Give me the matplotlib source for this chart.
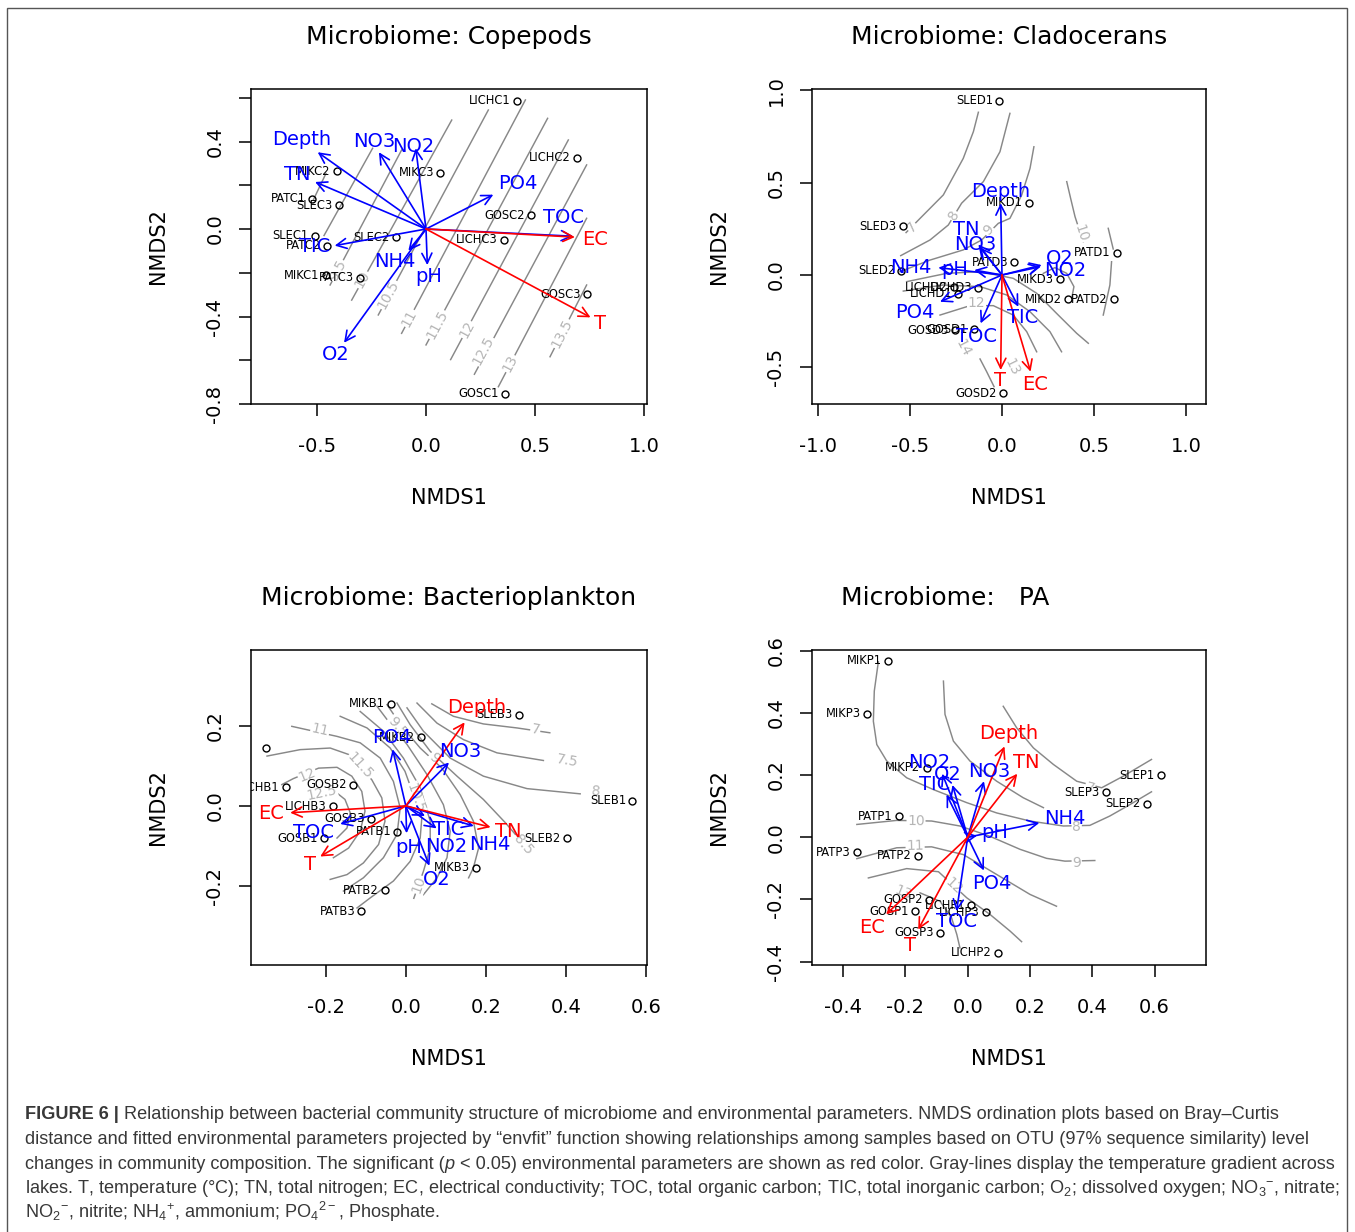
import numpy as np
import matplotlib
matplotlib.use("Agg")
import matplotlib.pyplot as plt
from matplotlib import font_manager
from matplotlib.patches import Rectangle
from matplotlib.transforms import offset_copy

plt.rcParams['font.family'] = 'DejaVu Sans'
plt.rcParams['axes.unicode_minus'] = False
nan = np.nan

# ---------------- Copepods ----------------
cop_sites = ['LICHC1', 'LICHC2', 'MIKC2', 'MIKC3', 'PATC1', 'SLEC3', 'GOSC2', 'SLEC1',
             'PATC2', 'SLEC2', 'LICHC3', 'MIKC1', 'PATC3', 'GOSC3', 'GOSC1']
cop_x = [0.417, 0.691, -0.408, 0.066, -0.523, -0.399, 0.482, -0.511,
         -0.453, -0.138, 0.358, -0.459, -0.303, 0.739, 0.364]
cop_y = [0.587, 0.325, 0.264, 0.257, 0.139, 0.108, 0.062, -0.030,
         -0.076, -0.037, -0.050, -0.212, -0.223, -0.299, -0.753]
cop_env = ['Depth', 'TN', 'NO3', 'NO2', 'PO4', 'TOC', 'EC', 'T', 'TIC', 'NH4', 'pH', 'O2']
cop_env_x = [-0.497, -0.509, -0.216, -0.047, 0.309, 0.675, 0.683, 0.755, -0.419, -0.081, 0.006, -0.376]
cop_env_y = [0.351, 0.215, 0.351, 0.369, 0.157, -0.033, -0.037, -0.404, -0.076, -0.099, -0.165, -0.520]
cop_lab_x = [-0.570, -0.593, -0.239, -0.058, 0.419, 0.630, 0.775, 0.800, -0.509, -0.145, 0.012, -0.413]
cop_lab_y = [0.410, 0.247, 0.402, 0.376, 0.209, 0.052, -0.046, -0.431, -0.081, -0.149, -0.215, -0.573]
cop_signif = ['EC', 'T']
cop_iso_x = [[-0.517, -0.459], [-0.468, -0.245], [-0.440, -0.112], [-0.341, 0.118],
             [-0.219, 0.286], [-0.112, 0.456], [0.000, 0.558], [0.113, 0.653],
             [0.222, 0.737], [0.332, 0.737], [0.569, 0.737]]
cop_iso_y = [[0.133, 0.254], [-0.030, 0.369], [-0.256, 0.361], [-0.325, 0.498],
             [-0.393, 0.544], [-0.477, 0.590], [-0.530, 0.506], [-0.597, 0.407],
             [-0.664, 0.293], [-0.721, 0.049], [-0.584, -0.256]]
cop_iso_txt = ['9.5', '10', '10.5', '11', '11.5', '12', '12.5', '13', '13.5']
cop_iso_tx = [-0.405, -0.291, -0.173, -0.076, 0.050, 0.187, 0.262, 0.385, 0.622]
cop_iso_ty = [-0.190, -0.232, -0.300, -0.408, -0.437, -0.460, -0.556, -0.615, -0.478]
cop_xticks = [-0.5, 0.0, 0.5, 1.0]
cop_xlabs = ['-0.5', '0.0', '0.5', '1.0']
cop_yticks = [-0.8, -0.6, -0.4, -0.2, 0.0, 0.2, 0.4, 0.6]
cop_ylabs = ['-0.8', '', '-0.4', '', '0.0', '', '0.4', '']

# ---------------- Cladocerans ----------------
cla_sites = ['SLED1', 'MIKD1', 'SLED3', 'PATD1', 'PATD3', 'SLED2', 'MIKD3', 'LICHD2',
             'LICHD3', 'LICHD1', 'MIKD2', 'PATD2', 'GOSD3', 'GOSD1', 'GOSD2']
cla_x = [-0.015, 0.148, -0.537, 0.621, 0.067, -0.546, 0.316, -0.260,
         -0.128, -0.237, 0.356, 0.607, -0.255, -0.152, 0.005]
cla_y = [0.945, 0.392, 0.264, 0.121, 0.069, 0.023, -0.023, -0.065,
         -0.070, -0.101, -0.132, -0.132, -0.298, -0.295, -0.641]
cla_env = ['Depth', 'TN', 'NO3', 'NH4', 'pH', 'O2', 'NO2', 'PO4', 'TIC', 'TOC', 'T', 'EC']
cla_env_x = [-0.007, -0.128, -0.120, -0.345, -0.150, 0.215, 0.210, -0.336, 0.089, -0.116, -0.007, 0.155]
cla_env_y = [0.389, 0.166, 0.150, 0.040, 0.027, 0.054, 0.045, -0.145, -0.172, -0.262, -0.515, -0.524]
cla_lab_x = [-0.007, -0.195, -0.146, -0.497, -0.256, 0.312, 0.345, -0.472, 0.112, -0.137, -0.011, 0.179]
cla_lab_y = [0.455, 0.244, 0.165, 0.042, 0.031, 0.088, 0.027, -0.204, -0.229, -0.334, -0.569, -0.593]
cla_signif = ['T', 'EC']
cla_iso_x = [[-0.520, -0.444, -0.318, -0.210, -0.155, -0.128],
             [-0.549, -0.390, -0.291, -0.219, -0.101, -0.011, 0.043],
             [-0.553, -0.390, -0.210, -0.110, -0.020, 0.043, 0.107, 0.152, 0.173],
             [0.351, 0.372, 0.396, 0.440],
             [0.576, 0.603, nan, 0.594, 0.585, 0.549],
             [0.224, 0.287, 0.351, 0.390, 0.378],
             [-0.517, -0.300, -0.119, 0.061, 0.188, 0.296, 0.405, 0.468],
             [-0.535, -0.318, -0.119, 0.025, 0.152, 0.260, 0.323],
             [-0.336, -0.173, -0.047, 0.061, 0.134, 0.188],
             [-0.119, -0.083, -0.043]]
cla_iso_y = [[0.230, 0.307, 0.434, 0.632, 0.777, 0.882],
             [0.105, 0.190, 0.271, 0.389, 0.506, 0.668, 0.876],
             [0.018, 0.081, 0.136, 0.190, 0.280, 0.307, 0.434, 0.578, 0.695],
             [0.506, 0.416, 0.316, 0.180],
             [0.253, 0.141, nan, 0.072, -0.054, -0.217],
             [0.009, 0.040, 0.009, -0.063, -0.126],
             [-0.036, 0.009, 0.018, -0.018, -0.099, -0.208, -0.316, -0.370],
             [-0.087, -0.054, -0.063, -0.108, -0.199, -0.307, -0.416],
             [-0.217, -0.166, -0.166, -0.217, -0.307, -0.416],
             [-0.455, -0.524, -0.605]]
cla_iso_txt = ['7', '8', '9', '10', '12', '14', '13']
cla_iso_tx = [-0.490, -0.262, -0.074, 0.426, -0.137, -0.210, 0.052]
cla_iso_ty = [0.262, 0.322, 0.244, 0.226, -0.150, -0.397, -0.497]
cla_xticks = [-1.0, -0.5, 0.0, 0.5, 1.0]
cla_xlabs = ['-1.0', '-0.5', '0.0', '0.5', '1.0']
cla_yticks = [-0.5, 0.0, 0.5, 1.0]
cla_ylabs = ['-0.5', '0.0', '0.5', '1.0']

# ---------------- Bacterioplankton ----------------
bac_sites = ['MIKB1', 'SLEB3', 'MIKB2', 'LICHB2', 'LICHB1', 'GOSB2', 'LICHB3', 'SLEB1',
             'GOSB3', 'PATB1', 'GOSB1', 'SLEB2', 'MIKB3', 'PATB2', 'PATB3']
bac_x = [-0.036, 0.283, 0.038, -0.349, -0.299, -0.131, -0.182, 0.566,
         -0.087, -0.021, -0.204, 0.402, 0.176, -0.053, -0.111]
bac_y = [0.254, 0.227, 0.171, 0.144, 0.046, 0.053, -0.001, 0.013,
         -0.032, -0.064, -0.081, -0.080, -0.154, -0.210, -0.262]
bac_hidden = ['LICHB2']  # its label falls outside the plot region
bac_env = ['Depth', 'NO3', 'PO4', 'EC', 'TOC', 'T', 'TN', 'TIC', 'NO2', 'NH4', 'pH', 'O2']
bac_env_x = [0.147, 0.108, -0.033, -0.289, -0.164, -0.214, 0.212, 0.077, 0.048, 0.170, 0.002, 0.059]
bac_env_y = [0.208, 0.108, 0.141, -0.017, -0.045, -0.126, -0.053, -0.056, -0.025, -0.050, -0.068, -0.149]
bac_lab_x = [0.177, 0.137, -0.036, -0.338, -0.231, -0.240, 0.256, 0.108, 0.102, 0.210, 0.008, 0.077]
bac_lab_y = [0.244, 0.136, 0.169, -0.019, -0.066, -0.146, -0.063, -0.059, -0.100, -0.096, -0.104, -0.183]
bac_signif = ['Depth', 'EC', 'T', 'TN']
bac_iso_x = [[0.065, 0.119, 0.194, 0.278, 0.360],
             [0.028, 0.078, 0.144, 0.228, 0.344],
             [0.003, 0.044, 0.111, 0.194, 0.303, 0.436],
             [-0.022, 0.011, 0.061, 0.128, 0.194, 0.249, 0.274],
             [-0.047, -0.010, 0.036, 0.090, 0.136, 0.169, 0.182, 0.169, 0.157],
             [-0.072, -0.031, 0.003, 0.053, 0.094, 0.111, 0.103, 0.078, 0.044],
             [-0.114, -0.056, -0.006, 0.036, 0.061, 0.061, 0.044, 0.020],
             [-0.164, -0.097, -0.039, -0.002, 0.040, 0.036, 0.011, -0.031, -0.089, -0.122],
             [-0.285, -0.172, -0.114, -0.064, -0.031, -0.014, -0.022, -0.056, -0.106, -0.156],
             [-0.347, -0.264, -0.189, -0.143, -0.085, -0.060, -0.052, -0.068, -0.106, -0.147, -0.189],
             [-0.310, -0.281, -0.218, -0.172, -0.135, -0.110, -0.102, -0.114, -0.143, -0.181],
             [-0.230, -0.177, -0.152, -0.139, -0.147, -0.172]]
bac_iso_y = [[0.254, 0.223, 0.204, 0.194, 0.182],
             [0.256, 0.206, 0.165, 0.132, 0.113],
             [0.244, 0.186, 0.119, 0.074, 0.043, 0.030],
             [0.256, 0.202, 0.136, 0.074, 0.016, -0.042, -0.071],
             [0.252, 0.198, 0.144, 0.094, 0.028, -0.038, -0.105, -0.154, -0.179],
             [0.248, 0.194, 0.153, 0.078, 0.003, -0.063, -0.129, -0.179, -0.221],
             [0.235, 0.186, 0.119, 0.045, -0.038, -0.105, -0.163, -0.230],
             [0.223, 0.194, 0.144, 0.086, -0.030, -0.080, -0.138, -0.187, -0.229, -0.254],
             [0.198, 0.173, 0.157, 0.119, 0.061, -0.005, -0.071, -0.129, -0.179, -0.212],
             [0.124, 0.140, 0.144, 0.128, 0.065, 0.020, -0.038, -0.096, -0.142, -0.171, -0.183],
             [0.053, 0.068, 0.094, 0.096, 0.074, 0.036, -0.013, -0.063, -0.105, -0.129],
             [0.025, 0.036, 0.016, -0.017, -0.055, -0.080]]
bac_iso_txt = ['7', '7.5', '8', '8.5', '9', '9.5', '10', '10.5', '11', '11.5', '12', '12.5']
bac_iso_tx = [0.324, 0.403, 0.474, 0.294, 0.070, -0.022, 0.032, 0.024, -0.214, -0.114, -0.247, -0.210]
bac_iso_ty = [0.190, 0.111, 0.035, -0.096, 0.120, 0.197, -0.196, 0.020, 0.190, 0.099, 0.078, 0.032]
bac_xticks = [-0.2, 0.0, 0.2, 0.4, 0.6]
bac_xlabs = ['-0.2', '0.0', '0.2', '0.4', '0.6']
bac_yticks = [-0.2, 0.0, 0.2]
bac_ylabs = ['-0.2', '0.0', '0.2']

# ---------------- PA ----------------
pa_sites = ['MIKP1', 'MIKP3', 'MIKP2', 'SLEP1', 'SLEP3', 'SLEP2', 'PATP1', 'PATP3',
            'PATP2', 'GOSP2', 'LICHP1', 'GOSP1', 'LICHP3', 'GOSP3', 'LICHP2']
pa_x = [-0.256, -0.322, -0.132, 0.620, 0.443, 0.576, -0.222, -0.357,
        -0.159, -0.124, 0.012, -0.169, 0.059, -0.089, 0.098]
pa_y = [0.568, 0.397, 0.223, 0.199, 0.145, 0.107, 0.067, -0.048,
        -0.059, -0.201, -0.219, -0.238, -0.241, -0.308, -0.372]
pa_env = ['Depth', 'TN', 'NO2', 'O2', 'TIC', 'NO3', 'NH4', 'pH', 'PO4', 'TOC', 'EC', 'T']
pa_env_x = [0.118, 0.159, -0.082, -0.049, -0.068, 0.052, 0.230, 0.030, 0.052, -0.036, -0.262, -0.159]
pa_env_y = [0.292, 0.204, 0.204, 0.168, 0.137, 0.180, 0.046, 0.005, -0.107, -0.238, -0.248, -0.297]
pa_lab_x = [0.133, 0.189, -0.124, -0.065, -0.105, 0.068, 0.312, 0.088, 0.077, -0.036, -0.308, -0.185]
pa_lab_y = [0.335, 0.241, 0.239, 0.201, 0.169, 0.212, 0.059, 0.014, -0.150, -0.270, -0.290, -0.348]
pa_signif = ['Depth', 'TN', 'EC', 'T']
pa_iso_x = [[0.114, 0.157, 0.211, 0.275, 0.350, 0.430, 0.499, 0.590],
            [-0.287, -0.300, -0.303, -0.292, -0.260, -0.196, -0.110, -0.003, 0.093, 0.200,
             0.307, 0.392, 0.456, 0.521, 0.590],
            [-0.078, -0.073, -0.046, 0.007, 0.093, 0.178, 0.243],
            [-0.356, -0.228, -0.116, -0.025, 0.071, 0.168, 0.253, 0.312, 0.408],
            [-0.356, -0.228, -0.116, -0.014, 0.093, 0.200, 0.285],
            [-0.319, -0.196, -0.094, -0.003, 0.071, 0.136, 0.173],
            [-0.153, -0.089, -0.052, -0.035, -0.025]]
pa_iso_y = [[0.421, 0.352, 0.287, 0.234, 0.180, 0.159, 0.196, 0.250],
            [0.564, 0.470, 0.373, 0.298, 0.245, 0.191, 0.153, 0.111, 0.078, 0.052,
             0.036, 0.038, 0.068, 0.105, 0.146],
            [0.502, 0.395, 0.309, 0.245, 0.180, 0.127, 0.095],
            [0.041, 0.054, 0.052, 0.036, 0.003, -0.039, -0.068, -0.077, -0.075],
            [-0.069, -0.034, -0.031, -0.056, -0.120, -0.184, -0.222],
            [-0.131, -0.101, -0.111, -0.195, -0.248, -0.302, -0.336],
            [-0.179, -0.206, -0.259, -0.313, -0.356]]
pa_iso_txt = ['7', '8', '9', '10', '11', '12', '13']
pa_iso_tx = [0.392, 0.350, 0.350, -0.166, -0.169, -0.046, -0.207]
pa_iso_ty = [0.159, 0.033, -0.082, 0.052, -0.029, -0.157, -0.177]
pa_xticks = [-0.4, -0.2, 0.0, 0.2, 0.4, 0.6]
pa_xlabs = ['-0.4', '-0.2', '0.0', '0.2', '0.4', '0.6']
pa_yticks = [-0.4, -0.2, 0.0, 0.2, 0.4, 0.6]
pa_ylabs = ['-0.4', '-0.2', '0.0', '0.2', '0.4', '0.6']

caption = [
    [("FIGURE 6 |", "bold", "normal"),
     (" Relationship between bacterial community structure of microbiome and environmental "
      "parameters. NMDS ordination plots based on Bray\u2013Curtis", "normal", "normal")],
    [("distance and fitted environmental parameters projected by \u201cenvfit\u201d function "
      "showing relationships among samples based on OTU (97% sequence similarity) level",
      "normal", "normal")],
    [("changes in community composition. The significant (", "normal", "normal"),
     ("p", "normal", "italic"),
     (" < 0.05) environmental parameters are shown as red color. Gray-lines display the "
      "temperature gradient across", "normal", "normal")],
    [("lakes. T, temperature (\u00b0C); TN, total nitrogen; EC, electrical conductivity; TOC, "
      "total organic carbon; TIC, total inorganic carbon; $\\mathregular{O_2}$; dissolved oxygen; "
      "$\\mathregular{NO_3{}^{-}}$, nitrate;", "normal", "normal")],
    [("$\\mathregular{NO_2{}^{-}}$, nitrite; $\\mathregular{NH_4{}^{+}}$, ammonium; "
      "$\\mathregular{PO_4{}^{2-}}$, Phosphate.", "normal", "normal")],
]

BLUE = '#0000ff'
RED = '#ff0000'
W, H = 1355, 1232
fig = plt.figure(figsize=(W / 100, H / 100), dpi=100)


def box(l, t, r, b):
    return [l / W, 1 - b / H, (r - l) / W, (b - t) / H]


def label_angle(ax, lines_x, lines_y, tx, ty):
    # angle of the nearest isoline segment, in screen space
    p = ax.transData.transform([(tx, ty)])[0]
    best_d, best_a = np.inf, 0.0
    for xs, ys in zip(lines_x, lines_y):
        pts = ax.transData.transform(np.column_stack([xs, ys]))
        for a, b in zip(pts[:-1], pts[1:]):
            if np.isnan(a).any() or np.isnan(b).any():
                continue
            d = b - a
            L = np.dot(d, d)
            t = np.clip(np.dot(p - a, d) / L, 0, 1) if L > 0 else 0
            dist = np.hypot(*(a + t * d - p))
            if dist < best_d:
                ang = np.degrees(np.arctan2(d[1], d[0]))
                if ang > 90:
                    ang -= 180
                if ang <= -90:
                    ang += 180
                best_d, best_a = dist, ang
    return best_a


def draw_panel(ax, title, sites, sx, sy, env, ex, ey, elx, ely, signif,
               iso_x, iso_y, iso_txt, iso_tx, iso_ty, xlim, ylim,
               xticks, xlabs, yticks, ylabs, title_x=0.5, hidden=()):
    ax.set_xlim(xlim)
    ax.set_ylim(ylim)
    hpx = ax.get_position().height * H
    wpx = ax.get_position().width * W

    # temperature isolines (ordisurf)
    for xs, ys in zip(iso_x, iso_y):
        ax.plot(xs, ys, color='#888888', lw=1.05, zorder=1)
    for s, tx, ty in zip(iso_txt, iso_tx, iso_ty):
        ang = label_angle(ax, iso_x, iso_y, tx, ty)
        ax.text(tx, ty, s, rotation=ang, rotation_mode='anchor', ha='center', va='center',
                fontsize=10, color='#b5b5b5', zorder=1.5, clip_on=True,
                bbox=dict(fc='white', ec='none', pad=0.5))

    # sites
    ax.plot(sx, sy, 'o', ms=5, mfc='none', mec='black', mew=1.0, zorder=2)
    trans = offset_copy(ax.transData, fig=fig, x=-4.5, y=0, units='points')
    for n, x, y in zip(sites, sx, sy):
        if n in hidden:
            continue
        ax.text(x, y, n, transform=trans, ha='right', va='center', fontsize=8.3,
                clip_on=True, zorder=2)

    # envfit vectors, significant ones in red on top
    for sig in (False, True):
        for v, x, y, lx, ly in zip(env, ex, ey, elx, ely):
            if (v in signif) != sig:
                continue
            c = RED if sig else BLUE
            ax.annotate('', xy=(x, y), xytext=(0, 0), zorder=3 + sig,
                        arrowprops=dict(arrowstyle='->,head_length=0.6,head_width=0.3',
                                        color=c, lw=1.2, shrinkA=0, shrinkB=0,
                                        mutation_scale=12))
            ax.text(lx, ly, v, color=c, fontsize=14, ha='center', va='center',
                    zorder=5, clip_on=True)

    ax.set_xticks(xticks, labels=xlabs)
    ax.set_yticks(yticks, labels=ylabs)
    ax.tick_params(axis='x', direction='out', length=8.6, width=1.1, labelsize=14, pad=15)
    ax.tick_params(axis='y', direction='out', length=8.6, width=1.1, labelsize=14, pad=10.5,
                   labelrotation=90)
    plt.setp(ax.get_yticklabels(), va='center')
    for sp in ax.spines.values():
        sp.set_linewidth(1.1)

    ax.set_xlabel('NMDS1', fontsize=15)
    ax.xaxis.set_label_coords(0.5, -94 / hpx)
    ax.xaxis.label.set_va('center')
    ax.set_ylabel('NMDS2', fontsize=15)
    ax.yaxis.set_label_coords(-93 / wpx, 0.5)
    ax.yaxis.label.set_va('center')
    ax.yaxis.label.set_ha('center')
    ax.text(title_x, 1 + 52 / hpx, title, transform=ax.transAxes, ha='center', va='center',
            fontsize=18)


ax1 = fig.add_axes(box(251, 89, 647, 404))
ax2 = fig.add_axes(box(812, 89, 1206, 404))
ax3 = fig.add_axes(box(251, 650, 647, 965))
ax4 = fig.add_axes(box(812, 650, 1206, 965))

draw_panel(ax1, 'Microbiome: Copepods', cop_sites, cop_x, cop_y, cop_env, cop_env_x, cop_env_y,
           cop_lab_x, cop_lab_y, cop_signif, cop_iso_x, cop_iso_y, cop_iso_txt, cop_iso_tx,
           cop_iso_ty, (-0.803, 1.014), (-0.800, 0.640), cop_xticks, cop_xlabs, cop_yticks,
           cop_ylabs)
draw_panel(ax2, 'Microbiome: Cladocerans', cla_sites, cla_x, cla_y, cla_env, cla_env_x,
           cla_env_y, cla_lab_x, cla_lab_y, cla_signif, cla_iso_x, cla_iso_y, cla_iso_txt,
           cla_iso_tx, cla_iso_ty, (-1.030, 1.106), (-0.699, 1.008), cla_xticks, cla_xlabs,
           cla_yticks, cla_ylabs)
draw_panel(ax3, 'Microbiome: Bacterioplankton', bac_sites, bac_x, bac_y, bac_env, bac_env_x,
           bac_env_y, bac_lab_x, bac_lab_y, bac_signif, bac_iso_x, bac_iso_y, bac_iso_txt,
           bac_iso_tx, bac_iso_ty, (-0.387, 0.603), (-0.396, 0.388), bac_xticks, bac_xlabs,
           bac_yticks, bac_ylabs, hidden=bac_hidden)
draw_panel(ax4, 'Microbiome:   PA', pa_sites, pa_x, pa_y, pa_env, pa_env_x, pa_env_y,
           pa_lab_x, pa_lab_y, pa_signif, pa_iso_x, pa_iso_y, pa_iso_txt, pa_iso_tx, pa_iso_ty,
           (-0.500, 0.765), (-0.411, 0.602), pa_xticks, pa_xlabs, pa_yticks, pa_ylabs,
           title_x=0.338)

# outer frame
fig.patches.append(Rectangle((7.5 / W, -0.01), (1347 - 7.5) / W, 1.01 - 7.5 / H,
                             transform=fig.transFigure, fill=False, ec='#555555', lw=1.0))

# caption, sized so the third line spans the same width as in the figure
names = {f.name for f in font_manager.fontManager.ttflist}
cap_family = 'Liberation Sans Narrow' if 'Liberation Sans Narrow' in names else 'Liberation Sans'
renderer = fig.canvas.get_renderer()
probe = fig.text(0, 0, ''.join(p[0] for p in caption[2]), fontsize=12, family=cap_family)
cap_size = 12 * 1311 / probe.get_window_extent(renderer).width
probe.remove()

for i, parts in enumerate(caption):
    x = 25
    y = 1119 + 24.8 * i
    for s, weight, style in parts:
        t = fig.text(x / W, 1 - y / H, s, fontsize=cap_size, family=cap_family,
                     weight=weight, style=style, color='#383838', ha='left', va='baseline')
        x += t.get_window_extent(renderer).width

fig.savefig('out.png', dpi=100)
